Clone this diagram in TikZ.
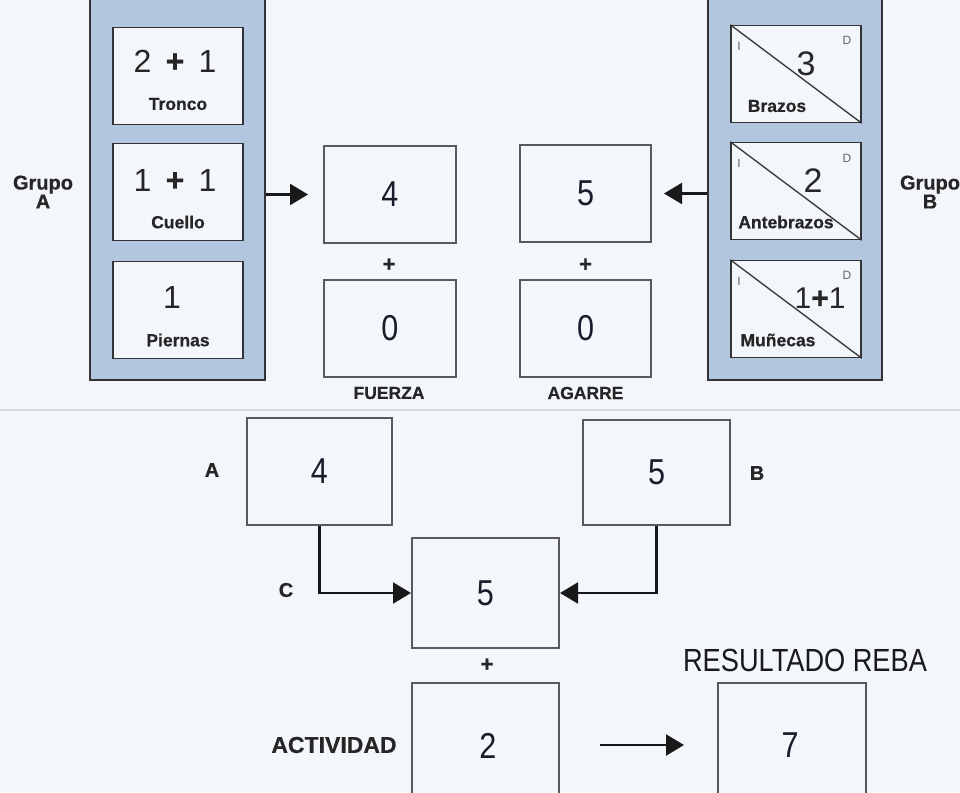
\documentclass[tikz,border=0pt]{standalone}
\usepackage{fontspec}
\setmainfont{Liberation Sans}
\newfontfamily\nar[FakeStretch=0.85]{Liberation Sans}
\newfontface\heavy{Liberation Sans Bold}[FakeBold=0.6]
\usetikzlibrary{arrows.meta,calc}
\definecolor{bg}{HTML}{F3F6FA}
\definecolor{panelfill}{HTML}{B2C6DF}
\definecolor{edge}{HTML}{333333}
\definecolor{boxedge}{HTML}{5A5A5A}
\definecolor{ink}{HTML}{1A1A2A}
\definecolor{sepline}{HTML}{D6D8DC}
\begin{document}
\begin{tikzpicture}[x=1pt,y=-1pt,
  panel/.style={draw=edge, line width=2.5pt, fill=panelfill, inner sep=0pt},
  inbox/.style={draw=edge, line width=1.5pt, fill=bg, minimum width=130pt, minimum height=97pt, inner sep=0pt},
  bigbox/.style={draw=boxedge, line width=2pt, fill=bg, inner sep=0pt, font=\nar\fontsize{36}{36}\selectfont, text=ink},
  num/.style={inner sep=0pt, font=\nar\fontsize{36}{36}\selectfont, text=ink},
  sum/.style={inner sep=0pt, font=\fontsize{32}{32}\selectfont, text=black!85},
  small/.style={inner sep=0pt, font=\heavy\fontsize{17.5}{17.5}\selectfont, text=black!85},
  corner/.style={inner sep=0pt, font=\fontsize{12}{12}\selectfont, text=black!60},
  lab/.style={inner sep=0pt, font=\heavy\fontsize{20}{16}\selectfont, text=black!85, align=center},
  plus/.style={inner sep=0pt, font=\heavy\fontsize{22}{22}\selectfont, text=black!85},
  title/.style={inner sep=0pt, font=\nar\fontsize{32}{32}\selectfont, text=black!90},
  arr/.style={draw=black!90, line width=2.2pt, -{Triangle[length=18pt,width=21pt]}},
  diag/.style={draw=edge, line width=1.3pt}
]
\fill[bg] (0,0) rectangle (960,792);
\clip (0,0) rectangle (960,792);

% Group A
\node[panel, minimum width=175pt, minimum height=390pt] (pA) at (177.5,185) {};
\node[inbox] (tr) at (178,76) {};
\node[inbox] (cu) at (178,192) {};
\node[inbox] (pi) at (178,310) {};
\node[sum] (trn) at (175,61) {2 \,{\heavy+}\, 1};
\node[small] (trl) at (178,104) {Tronco};
\node[sum] (cun) at (175,180) {1 \,{\heavy+}\, 1};
\node[small] (cul) at (178,222) {Cuello};
\node[sum] (pin) at (172,297) {1};
\node[small] (pil) at (178,340) {Piernas};
\node[lab] (gA) at (43,192) {Grupo\\A};

% Group B
\node[panel, minimum width=174pt, minimum height=390pt] (pB) at (795,185) {};
\node[inbox] (bz) at (796,74) {};
\node[inbox] (ab) at (796,191) {};
\node[inbox] (mu) at (796,309) {};
\draw[diag] (bz.north west) -- (bz.south east);
\draw[diag] (ab.north west) -- (ab.south east);
\draw[diag] (mu.north west) -- (mu.south east);
\node[corner] (bzi) at (739,46) {I};
\node[corner] (bzd) at (847,40) {D};
\node[corner] (abi) at (739,163) {I};
\node[corner] (abd) at (847,158) {D};
\node[corner] (mui) at (739,281) {I};
\node[corner] (mud) at (847,275) {D};
\node[sum, font=\fontsize{34}{34}\selectfont] (bzn) at (806,64) {3};
\node[small] (bzl) at (777,106) {Brazos};
\node[sum, font=\fontsize{34}{34}\selectfont] (abn) at (813,181) {2};
\node[small] (abl) at (786,222) {Antebrazos};
\node[sum, font=\fontsize{30}{30}\selectfont] (mun) at (820,298) {1{\heavy+}1};
\node[small] (mul) at (778,340) {Muñecas};
\node[lab] (gB) at (930,192) {Grupo\\B};

% middle boxes
\node[bigbox, minimum width=132pt, minimum height=97pt] (f4) at (390,194.5) {4};
\node[bigbox, minimum width=131pt, minimum height=97pt] (g5) at (585.5,193.5) {5};
\node[plus] (pf) at (389,265) {+};
\node[plus] (pg) at (585.5,265) {+};
\node[bigbox, minimum width=132pt, minimum height=97pt] (f0) at (390,328.5) {0};
\node[bigbox, minimum width=131pt, minimum height=97pt] (g0) at (585.5,328) {0};
\node[small] (fz) at (389,393) {FUERZA};
\node[small] (ag) at (585.5,393) {AGARRE};
\draw[arr, shorten >=15pt] (pA.east |- f4.west) -- (f4.west);
\draw[arr, shorten >=12pt] (pB.west |- g5.east) -- (g5.east);

% separator
\draw[sepline, line width=2pt] (0,410) -- (960,410);

% lower part
\node[bigbox, minimum width=145pt, minimum height=107pt] (bA) at (319.5,471.5) {4};
\node[bigbox, minimum width=147pt, minimum height=105pt] (bB) at (656.5,472.5) {5};
\node[bigbox, minimum width=147pt, minimum height=110pt] (bC) at (485.5,593) {5};
\node[lab] (lA) at (212,470) {A};
\node[lab] (lB) at (757,473) {B};
\node[lab] (lC) at (286,590) {C};
\draw[arr] (bA.south) |- (bC.west);
\draw[arr] (bB.south) |- (bC.east);
\node[plus] (pc) at (487,665) {+};
\node[bigbox, minimum width=147pt, minimum height=120pt] (act) at (485.5,743) {};
\node[num] (actn) at (488,746) {2};
\node[lab, font=\heavy\fontsize{23}{23}\selectfont] (actl) at (334,745) {ACTIVIDAD};
\node[bigbox, minimum width=148pt, minimum height=120pt] (res) at (792,743) {};
\node[num] (resn) at (790,745) {7};
\node[title] (rt) at (805,660) {RESULTADO REBA};
\coordinate (q1) at (600,745);
\coordinate (q2) at (684,745);
\draw[arr] (q1) -- (q2);
\end{tikzpicture}
\end{document}
